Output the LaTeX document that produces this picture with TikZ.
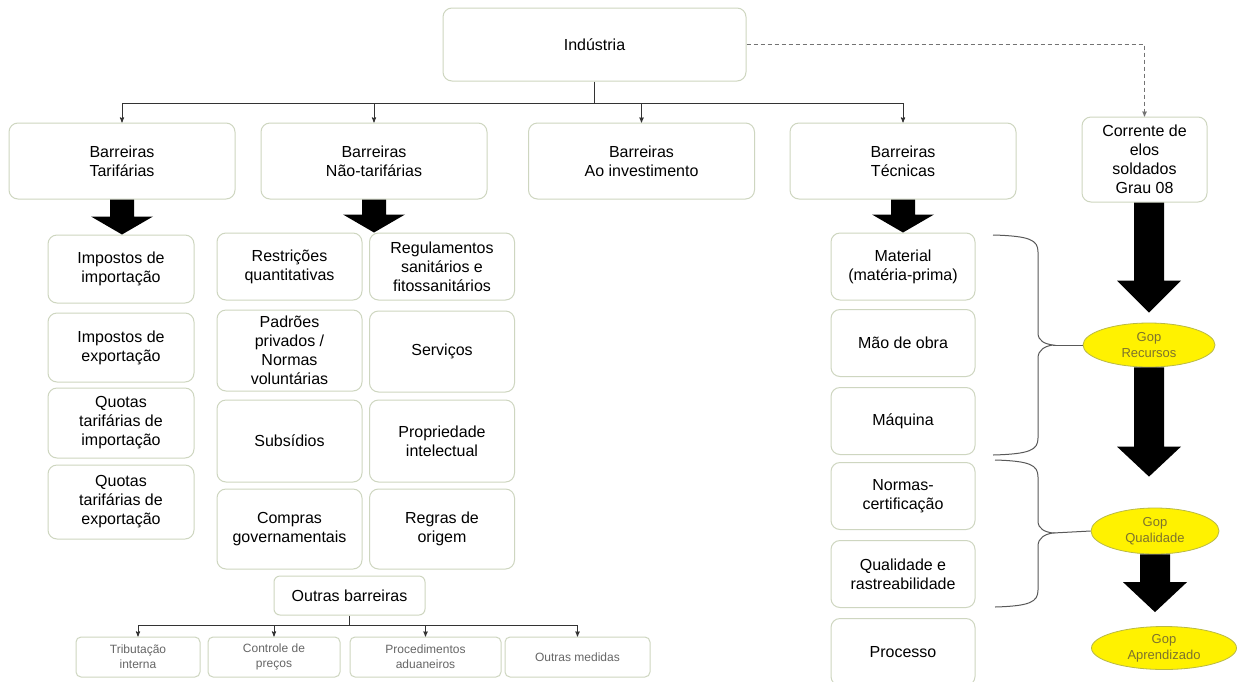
\documentclass[tikz,border=0pt]{standalone}
\usepackage{fontspec}
\setmainfont{Liberation Sans}
\usetikzlibrary{calc}
\usetikzlibrary{arrows}
\usetikzlibrary{shapes.geometric}
\usepackage{xcolor}
\definecolor{boxline}{RGB}{206,214,192}
\definecolor{gopline}{RGB}{185,185,70}
\definecolor{goptext}{RGB}{125,115,45}
\newcommand{\fatarrow}[5]{\fill[black] let \p1=(#1), \p2=(#2) in (\x1-#3pt,\y1) -- (\x1+#3pt,\y1) -- (\x1+#3pt,\y2+#5pt) -- (\x1+#4pt,\y2+#5pt) -- (\x1,\y2) -- (\x1-#4pt,\y2+#5pt) -- (\x1-#3pt,\y2+#5pt) -- cycle;}

\begin{document}
\begin{tikzpicture}[x=1pt, y=-1pt,
  box/.style={draw=boxline, line width=1pt, rounded corners=9pt, align=center, inner sep=1pt, font=\fontsize{16}{19}\selectfont, text=black},
  smallbox/.style={box, rounded corners=5pt, font=\fontsize{12}{15}\selectfont, text=black!60},
  gop/.style={ellipse, draw=gopline, line width=0.8pt, fill=yellow, inner sep=0pt, align=center, font=\fontsize{13}{16}\selectfont, text=goptext},
  link/.style={black!80, line width=0.9pt, ->, >=stealth'}]
\clip (0,0) rectangle (1240,681);
\fill[white] (0,0) rectangle (1240,681);

\node[box, minimum width=303, minimum height=73] (ind) at (594.5,44.5) {Indústria};
\foreach \n/\x/\t in {bt/122/{Barreiras\\Tarifárias}, bnt/374/{Barreiras\\Não-tarifárias}, bai/641.5/{Barreiras\\Ao investimento}, btec/903/{Barreiras\\Técnicas}}
  \node[box, minimum width=226, minimum height=76] (\n) at (\x,161) {\t};
\node[box, minimum width=125, minimum height=85] (cor) at (1144.5,159.5) {Corrente de\\elos\\soldados\\Grau 08};

\foreach \n/\y/\h/\t in {ii/269/68/{Impostos de\\importação}, ie/347.5/69/{Impostos de\\exportação}, qi/423/70/{Quotas\\tarifárias de\\importação}, qe/502/74/{Quotas\\tarifárias de\\exportação}}
  \node[box, minimum width=146, minimum height=\h] (\n) at (121,\y) {\t};

\foreach \n/\x/\y/\h/\t in {rq/289.5/266.5/67/{Restrições\\quantitativas}, rs/442/266.5/67/{Regulamentos\\sanitários e\\fitossanitários},
    pp/289.5/350.5/81/{Padrões\\privados /\\Normas\\voluntárias}, sv/442/351.5/81/{Serviços},
    sb/289.5/441/82/{Subsídios}, pi/442/441/82/{Propriedade\\intelectual},
    cg/289.5/529/80/{Compras\\governamentais}, ro/442/529/80/{Regras de\\origem}}
  \node[box, minimum width=145, minimum height=\h] (\n) at (\x,\y) {\t};
\node[box, rounded corners=6pt, minimum width=151, minimum height=39] (ob) at (349.5,595.5) {Outras barreiras};
\foreach \n/\x/\w/\t in {trib/138/124/{Tributação\\interna}, ctrl/274/132/{Controle de\\preços}, proc/425.5/151/{Procedimentos\\aduaneiros}, outm/577.5/145/{Outras medidas}}
  \node[smallbox, minimum width=\w, minimum height=40] (\n) at (\x,657) {\t};

\foreach \n/\y/\t in {mat/266.5/{Material\\(matéria-prima)}, mao/343/{Mão de obra}, maq/421/{Máquina}, nor/496/{Normas-\\certificação}, qua/574/{Qualidade e\\rastreabilidade}, pro/652/{Processo}}
  \node[box, minimum width=144, minimum height=67] (\n) at (903,\y) {\t};

\node[gop, minimum width=132, minimum height=44] (gr) at (1149,345) {Gop\\Recursos};
\node[gop, minimum width=128, minimum height=46] (gq) at (1155,531) {Gop\\Qualidade};
\node[gop, minimum width=145, minimum height=43] (ga) at (1164,648) {Gop\\Aprendizado};

\draw[black!80, line width=0.9pt] (ind.south) -- ++(0,22) coordinate (hub);
\foreach \b in {bt,bnt,bai,btec}
  \draw[link] (hub) -| (\b.north);
\draw[link, black!55, dash pattern=on 4pt off 3pt] (ind.east) -| (cor.north);

\draw[black!80, line width=0.9pt] (ob.south) -- ++(0,10) coordinate (hub2);
\foreach \b in {trib,ctrl,proc,outm}
  \draw[link] (hub2) -| (\b.north);

\fatarrow{bt.south}{ii.north}{12}{31}{18}
\fatarrow{bnt.south}{bnt.south |- rq.north}{12}{31}{18}
\fatarrow{btec.south}{mat.north}{12}{31}{18}
\fatarrow{cor.south -| gr.north}{$(gr.north)+(0,-10)$}{15}{32}{32}
\fatarrow{gr.south}{$(gq.north)+(0,-31)$}{15}{32}{30}
\fatarrow{gq.south}{$(ga.north)+(0,-14)$}{15}{32}{30}

\draw[black!65, line width=1pt] (993,235) .. controls (1030,236) and (1038,240) .. (1038,252) -- (1038,333) .. controls (1038,341) and (1045,344) .. (1053,345) coordinate (tip1) .. controls (1045,346) and (1038,350) .. (1038,358) -- (1038,438) .. controls (1038,450) and (1030,454) .. (993,455);
\draw[black!65, line width=1pt] (995,460) .. controls (1030,461) and (1038,465) .. (1038,477) -- (1038,521) .. controls (1038,529) and (1045,532) .. (1053,533) coordinate (tip2) .. controls (1045,534) and (1038,538) .. (1038,546) -- (1038,590) .. controls (1038,602) and (1030,606) .. (995,607);
\draw[black!65, line width=1pt] (tip1) -- (gr.west);
\draw[black!65, line width=1pt] (tip2) -- (gq.west);
\end{tikzpicture}
\end{document}
